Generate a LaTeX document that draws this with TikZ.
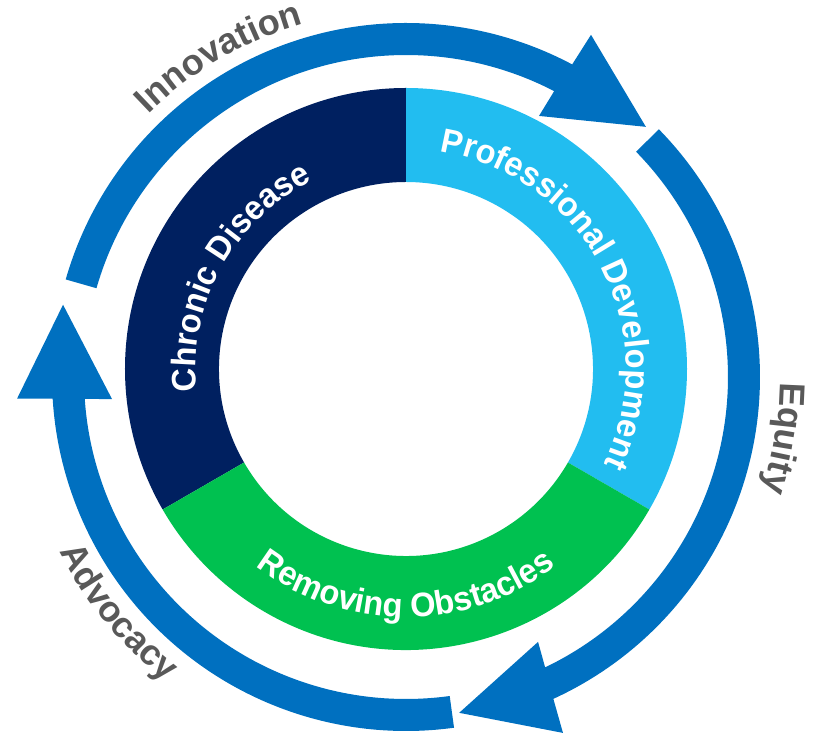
\documentclass[tikz,border=0pt]{standalone}
\usepackage{fontspec}
\setmainfont{Liberation Sans}
\newfontfamily\innerfont[FakeStretch=0.96]{Liberation Sans}
\usetikzlibrary{decorations.text}
\definecolor{navy}{RGB}{0,32,96}
\definecolor{sky}{RGB}{34,189,240}
\definecolor{grn}{RGB}{0,193,80}
\definecolor{arrowblue}{RGB}{0,112,192}
\definecolor{labelgray}{RGB}{89,89,89}
\tikzset{
  outerlabel/.style={decorate, decoration={text along path, text align=center,
      text={|\fontsize{36pt}{36pt}\selectfont\bfseries\color{labelgray}|#1}}},
  innerlabel/.style={decorate, decoration={text along path, text align=center,
      text={|\innerfont\fontsize{34pt}{34pt}\selectfont\bfseries\color{white}|#1}}},
  arrowfill/.style={fill=arrowblue},
}
\begin{document}
\begin{tikzpicture}
\useasboundingbox (-406pt,-366pt) rectangle (407pt,369pt);
% donut segments
\fill[navy] (90:281pt) arc[start angle=90,end angle=210,radius=281pt] -- (210:187pt) arc[start angle=210,end angle=90,radius=187pt] -- cycle;
\fill[sky] (90:281pt) arc[start angle=90,end angle=-30,radius=281pt] -- (-30:187pt) arc[start angle=-30,end angle=90,radius=187pt] -- cycle;
\fill[grn] (-30:281pt) arc[start angle=-30,end angle=-150,radius=281pt] -- (210:187pt) arc[start angle=-150,end angle=-30,radius=187pt] -- cycle;
% inner labels
\path[innerlabel=Chronic Disease] (211.2:210pt) arc[start angle=211.2,end angle=91.2,radius=210pt];
\path[innerlabel=Professional Development] (97.8:220pt) arc[start angle=97.8,end angle=-42.2,radius=220pt];
\path[innerlabel=Removing Obstacles] (210:248pt) arc[start angle=210,end angle=330,radius=248pt];
% outer arrows
\begin{scope}[shift={(0pt,-8pt)}]
\fill[arrowfill] (164:354pt) arc[start angle=164,end angle=62,radius=354pt] -- (61.6:389pt) -- (46.2:346.6pt) -- (63:293pt) -- (62.6:322pt) arc[start angle=62.6,end angle=164,radius=322pt] -- cycle;
\fill[arrowfill] (44.4:354pt) arc[start angle=44.4,end angle=-65.4,radius=354pt] -- (-66.2:389pt) -- (-81:340pt) -- (-63.5:296pt) -- (-64.4:322pt) arc[start angle=-64.4,end angle=44.4,radius=322pt] -- cycle;
\fill[arrowfill] (-82.2:354pt) arc[start angle=-82.2,end angle=-176.5,radius=354pt] -- (-176.8:389.6pt) -- (168.1:350.5pt) -- (-175.7:294.8pt) -- (-176.1:322pt) arc[start angle=-176.1,end angle=-82.2,radius=322pt] -- cycle;
% outer labels
\path[outerlabel=Innovation] (160.3:368pt) arc[start angle=160.3,end angle=80.3,radius=368pt];
\path[outerlabel=Equity] (30.8:374pt) arc[start angle=30.8,end angle=-49.2,radius=374pt];
\path[outerlabel=Advocacy] (179.3:388pt) arc[start angle=179.3,end angle=259.3,radius=388pt];
\end{scope}
\end{tikzpicture}
\end{document}
